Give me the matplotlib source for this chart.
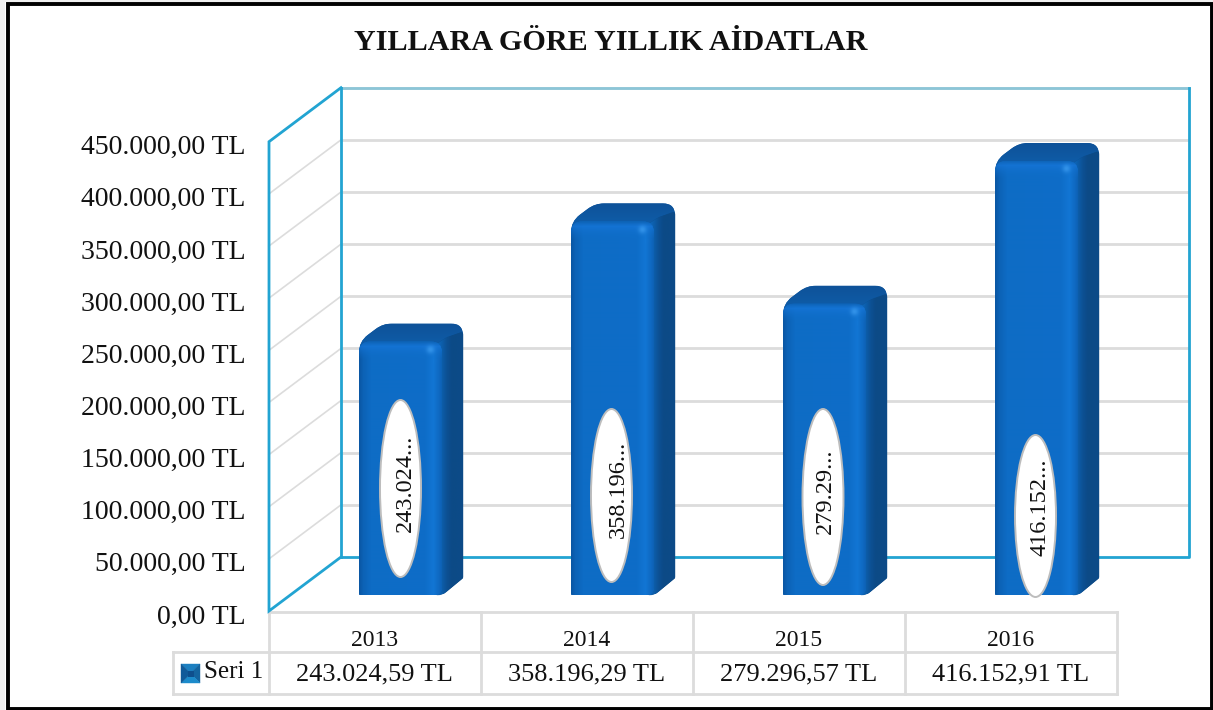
import numpy as np
import matplotlib
matplotlib.use('Agg')
import matplotlib.pyplot as plt
from matplotlib.colors import to_rgb
from matplotlib.patches import Ellipse, PathPatch, Polygon, Rectangle
from matplotlib.path import Path
from matplotlib.transforms import ScaledTranslation

plt.rcParams['font.family'] = ['Liberation Serif', 'DejaVu Serif']

title = 'YILLARA GÖRE YILLIK AİDATLAR'
years = ['2013', '2014', '2015', '2016']
values = [243024.59, 358196.29, 279296.57, 416152.91]
value_labels = ['243.024,59 TL', '358.196,29 TL', '279.296,57 TL', '416.152,91 TL']
bar_labels = ['243.024...', '358.196...', '279.29...', '416.152...']
series_name = 'Seri 1'
ticks = [0, 50000, 100000, 150000, 200000, 250000, 300000, 350000, 400000, 450000]
tick_labels = ['0,00 TL', '50.000,00 TL', '100.000,00 TL', '150.000,00 TL', '200.000,00 TL',
               '250.000,00 TL', '300.000,00 TL', '350.000,00 TL', '400.000,00 TL', '450.000,00 TL']

W, H = 1213, 710
LEFT, RIGHT, TOP, BOTTOM = 269, 1117, 141.7, 611
UX = (RIGHT - LEFT) / 4
UY = (BOTTOM - TOP) / 450000
CYAN = '#22a4d2'
GRID = '#dcdcdc'

fig = plt.figure(figsize=(W / 100, H / 100), dpi=100, facecolor='white')

# overlay in pixels for frame, table and label bubbles
back = fig.add_axes([0, 0, 1, 1], zorder=0)
back.set_xlim(0, W)
back.set_ylim(H, 0)
back.axis('off')
top_layer = fig.add_axes([0, 0, 1, 1], zorder=5)
top_layer.set_xlim(0, W)
top_layer.set_ylim(H, 0)
top_layer.axis('off')

ax = fig.add_axes([LEFT / W, 1 - BOTTOM / H, (RIGHT - LEFT) / W, (BOTTOM - TOP) / H], zorder=2)
ax.patch.set_alpha(0)
for s in ax.spines.values():
    s.set_visible(False)
ax.set_xticks([])
ax.set_yticks(ticks, tick_labels, fontsize=20, color='#111111')
ax.tick_params(axis='y', length=0, pad=17)
shift = ScaledTranslation(0, -3 / 100, fig.dpi_scale_trans)
for lab in ax.get_yticklabels():
    lab.set_transform(lab.get_transform() + shift)


def rounded(points):
    # points are (x, y, r) in pixels, returns a closed path with rounded corners
    verts, codes = [], []
    n = len(points)
    for i in range(n):
        p = np.array(points[i][:2], float)
        r = points[i][2]
        a = np.array(points[i - 1][:2], float)
        b = np.array(points[(i + 1) % n][:2], float)
        u = (a - p) / np.linalg.norm(a - p)
        v = (b - p) / np.linalg.norm(b - p)
        verts.append(p + u * r)
        codes.append(Path.MOVETO if i == 0 else Path.LINETO)
        verts += [p, p + v * r]
        codes += [Path.CURVE3, Path.CURVE3]
    verts.append(verts[0])
    codes.append(Path.CLOSEPOLY)
    verts = np.array(verts) / [UX, UY]
    return Path(verts, codes)


def ramp(stops, t):
    pos = [s[0] for s in stops]
    cols = np.array([to_rgb(s[1]) for s in stops])
    return np.stack([np.interp(t, pos, cols[:, k]) for k in range(3)], axis=-1)


def draw_bar(i, v):
    x0 = (i + 0.5) * UX + 25.5 - 41.5
    x1 = x0 + 83
    y0 = 16
    y1 = y0 + v * UY
    dx, dy = 21, 18

    # whole silhouette, shows as the top face
    sil = rounded([(x0, y0, 1), (x0, y1, 11), (x0 + dx + 3, y1 + dy, 9), (x1 + dx, y1 + dy, 12),
                   (x1 + dx, y0 + dy, 1), (x1, y0, 9)])
    patch = PathPatch(sil, fc='#0f579e', ec='none', zorder=3)
    ax.add_patch(patch)
    rows = np.linspace(0, 1, 40)[:, None]
    im = ax.imshow(ramp([(0, '#0e5fb0'), (0.45, '#0f5aa4'), (1, '#0e5299')], rows), origin='lower',
                   extent=[x0 / UX, (x1 + dx) / UX, (y1 - 10) / UY, (y1 + dy) / UY],
                   aspect='auto', zorder=3.1)
    im.set_clip_path(patch)

    # right side, fades out under the rounded top corner
    side = rounded([(x1 - 6, y0, 1), (x1 - 6, y1 - 3, 1), (x1 + 4, y1 + 4, 4), (x1 + dx + 0.2, y1 + dy - 8, 3),
                    (x1 + dx + 0.2, y0 + dy - 1, 1), (x1, y0 - 0.5, 5)])
    spatch = PathPatch(side, fc='#0c4a86', ec='none', zorder=3.2)
    ax.add_patch(spatch)
    t = np.linspace(-8, dx, 60)[None, :]
    im = ax.imshow(ramp([(-8, '#1070cc'), (-1, '#0d60ae'), (5, '#0c5093'), (10, '#0c4a86'), (21, '#0c4b88')], t),
                   extent=[(x1 - 8) / UX, (x1 + dx) / UX, (y0 - 2) / UY, (y1 + dy) / UY],
                   aspect='auto', zorder=3.3)
    im.set_clip_path(spatch)

    # front face
    front = rounded([(x0, y0, 2), (x0, y1, 11), (x1, y1, 11), (x1, y0, 8)])
    fpatch = PathPatch(front, fc='#0f6dc8', ec='none', zorder=3.4)
    ax.add_patch(fpatch)
    w, h = 83, int(y1 - y0)
    xx = np.arange(w)[None, :]
    yy = np.arange(h)[:, None]
    face = ramp([(0, '#0a57a4'), (4, '#0c62b6'), (12, '#0e6cc5'), (66, '#0e6dc8'), (74, '#1276d4'),
                 (80, '#0f68c0'), (83, '#0d5fb0')], xx)
    face = np.repeat(face, h, axis=0)
    bevel = ramp([(0, '#0d62b4'), (5, '#1675d8'), (11, '#1271d0'), (18, '#0e6dc8')], yy)
    mix = np.clip(1 - yy / 18, 0, 1)[..., None]
    face = face * (1 - mix) + bevel * mix
    spot = np.exp(-(((xx - 71) / 4.0) ** 2 + ((yy - 8) / 4.0) ** 2))[..., None] * 0.75
    face = face * (1 - spot) + np.array(to_rgb('#3c9cf0')) * spot
    im = ax.imshow(face, origin='upper', extent=[x0 / UX, x1 / UX, y0 / UY, y1 / UY],
                   aspect='auto', zorder=3.5)
    im.set_clip_path(fpatch)


# walls, in chart units with the depth offset of the back plane
bx, by = 72 / UX, 54 / UY
for v in ticks[1:]:
    ax.plot([bx, 4 + bx], [v + by, v + by], color=GRID, lw=2, zorder=1, clip_on=False, solid_capstyle='butt')
    ax.plot([0, bx], [v, v + by], color=GRID, lw=1.2, zorder=1, clip_on=False)
ax.plot([bx, 4 + bx], [450000 + by, 450000 + by], color='#8cc6d8', lw=2, zorder=1.5, clip_on=False)
ax.plot([bx, 4 + bx, 4 + bx], [by, by, 450000 + by], color=CYAN, lw=2, zorder=1.5, clip_on=False)
ax.plot([bx, bx], [by, 450000 + by], color=CYAN, lw=2, zorder=1.5, clip_on=False)
ax.plot([bx, 0, 0, bx], [by, 0, 450000, 450000 + by], color=CYAN, lw=2, zorder=1.5, clip_on=False,
        solid_joinstyle='miter')

for i, v in enumerate(values):
    draw_bar(i, v)
ax.set_xlim(0, 4)
ax.set_ylim(0, 450000)

# frame
back.add_patch(Rectangle((0, 0), 5, H, fc='#f0f0f0', ec='none'))
back.add_patch(Rectangle((0, 0), W, 2, fc='#f0f0f0', ec='none'))
top_layer.add_patch(Rectangle((7.5, 3.5), W - 7.5 - 1, H - 3.5 - 1.5, fc='none', ec='black', lw=2.8,
                              joinstyle='miter'))
top_layer.text(611, 42, title, fontsize=21.7, fontweight='bold', ha='center', va='center', color='#111111')

# bubbles with the bar labels
bubble_x = [400.5, 611.5, 823, 1035.5]
bubble_top = [400, 409, 409, 435]
bubble_bot = [577, 582, 585, 597]
text_x = [405, 618, 825, 1040]
text_bot = [532, 538, 534, 556]
for i, lab in enumerate(bar_labels):
    top_layer.add_patch(Ellipse((bubble_x[i], (bubble_top[i] + bubble_bot[i]) / 2), 41,
                                bubble_bot[i] - bubble_top[i], fc='white', ec='#bdbdbd', lw=1.4))
    top_layer.text(text_x[i], text_bot[i], lab, rotation=90, fontsize=17.5, ha='center', va='bottom',
                   color='#111111')

# data table under the chart
row_y = [612, 652, 694]
col_x = [269, 481, 693, 905, 1117]
for y in row_y[:1]:
    back.plot([269, 1117], [y, y], color=GRID, lw=2)
for y in row_y[1:]:
    back.plot([173, 1117], [y, y], color=GRID, lw=2)
for x in col_x:
    back.plot([x, x], [612, 694], color=GRID, lw=2)
back.plot([173, 173], [652, 694], color=GRID, lw=2)
for i in range(4):
    cx = (col_x[i] + col_x[i + 1]) / 2
    back.text(cx - 0.5, 640, years[i], fontsize=17, ha='center', va='center', color='#111111')
    back.text(cx - 0.5, 674, value_labels[i], fontsize=19, ha='center', va='center', color='#111111')
back.text(204, 672, series_name, fontsize=18, ha='left', va='center', color='#111111')

# legend key
kx0, kx1, ky0, ky1 = 181, 200, 664, 683
cx, cy = (kx0 + kx1) / 2, (ky0 + ky1) / 2
key_faces = [([(kx0, ky0), (kx1, ky0), (cx, cy)], '#1c7fc0'),
             ([(kx1, ky0), (kx1, ky1), (cx, cy)], '#14649f'),
             ([(kx1, ky1), (kx0, ky1), (cx, cy)], '#1c8bcb'),
             ([(kx0, ky1), (kx0, ky0), (cx, cy)], '#115a99')]
for pts, col in key_faces:
    back.add_patch(Polygon(pts, fc=col, ec=col, lw=0.3))
back.add_patch(Rectangle((cx - 3, cy - 3), 6, 6, fc='#0f4f8d', ec='none'))

fig.savefig('out.png', dpi=100)
